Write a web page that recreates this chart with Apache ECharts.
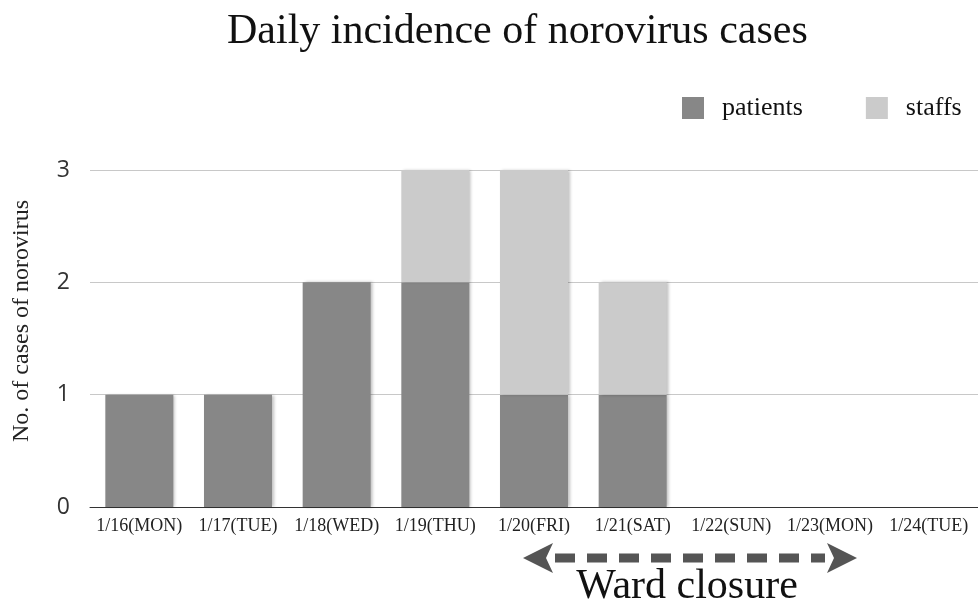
<!DOCTYPE html>
<html><head><meta charset="utf-8">
<script src="https://cdn.jsdelivr.net/npm/echarts@6/dist/echarts.min.js"></script>
<style>html,body{margin:0;padding:0;background:#fff}#c{width:978px;height:602px}</style>
</head><body><div id="c"></div>
<script>
const categories = ['1/16(MON)','1/17(TUE)','1/18(WED)','1/19(THU)','1/20(FRI)','1/21(SAT)','1/22(SUN)','1/23(MON)','1/24(TUE)'];
const patients = [1,1,2,2,1,1,0,0,0];
const staffs = [0,0,0,1,2,1,0,0,0];
const yTicks = [0,1,2,3];

const serif = '"Liberation Serif","DejaVu Serif",serif';
const chart = echarts.init(document.getElementById('c'));
const shadow = {shadowBlur:3, shadowOffsetX:2, shadowOffsetY:0, shadowColor:'rgba(0,0,0,0.25)'};
chart.setOption({
  animation:false,
  title:{text:'Daily incidence of norovirus cases', left:227, top:11, padding:0,
    textStyle:{fontFamily:serif, fontWeight:'normal', fontSize:42, color:'#111'}},
  legend:{left:682, top:95, padding:0, itemWidth:22, itemHeight:22, itemGap:63, icon:'rect',
    textStyle:{fontFamily:serif, fontSize:26, color:'#111', padding:[0,0,0,13]},
    data:['patients','staffs']},
  grid:{left:90, right:0, top:170, bottom:95, containLabel:false},
  xAxis:{type:'category', data:categories,
    axisLine:{lineStyle:{color:'#333', width:1}}, axisTick:{show:false},
    axisLabel:{fontFamily:serif, fontSize:18, color:'#222', margin:10, interval:0}},
  yAxis:{type:'value', min:0, max:yTicks[yTicks.length-1], interval:1,
    axisLine:{show:false}, axisTick:{show:false},
    splitLine:{lineStyle:{color:'#c8c8c8', width:1}},
    axisLabel:{fontFamily:'"Open Sans","Liberation Sans",sans-serif', fontSize:23, color:'#333', margin:20}},
  graphic:[
    {type:'text', x:22, y:321, rotation:Math.PI/2,
      style:{text:'No. of cases of norovirus', font:'24px '+serif, fill:'#222', textAlign:'center', textVerticalAlign:'middle'}},
    {type:'polygon', shape:{points:[[523,558],[553,543],[546,558],[553,573]]}, style:{fill:'#555'}},
    {type:'polygon', shape:{points:[[857,558],[827,543],[834,558],[827,573]]}, style:{fill:'#555'}},
    {type:'line', shape:{x1:555, y1:558, x2:825, y2:558},
      style:{stroke:'#555', lineWidth:9, lineDash:[20,12]}},
    {type:'text', x:687, y:587,
      style:{text:'Ward closure', font:'42px '+serif, fill:'#111', textAlign:'center', textVerticalAlign:'middle'}}
  ],
  series:[
    {name:'patients', type:'bar', stack:'a', data:patients, barWidth:68,
      itemStyle:Object.assign({color:'#878787'}, shadow)},
    {name:'staffs', type:'bar', stack:'a', data:staffs, barWidth:68,
      itemStyle:Object.assign({color:'#cbcbcb'}, shadow)}
  ]
});
</script></body></html>
